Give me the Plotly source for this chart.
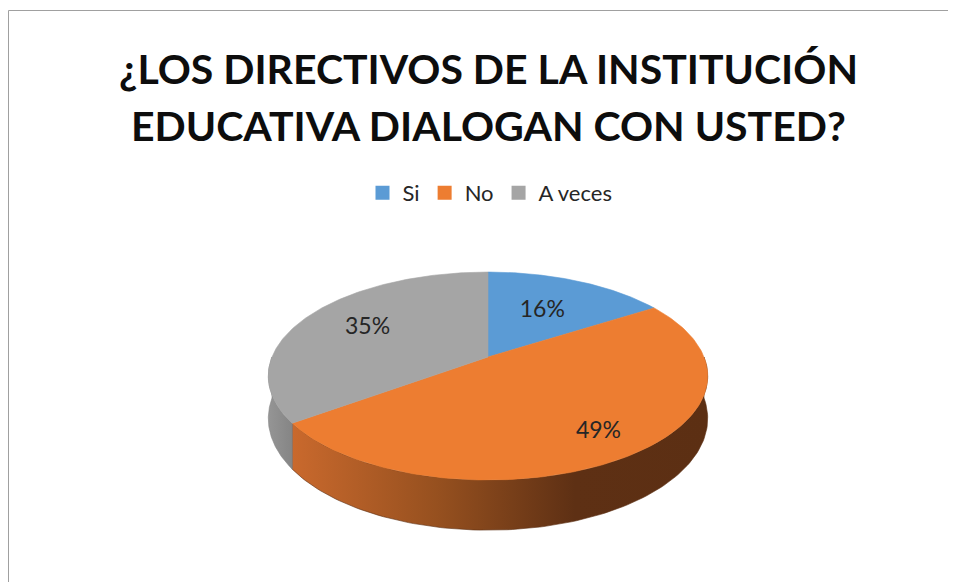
import numpy as np
import plotly.graph_objects as go

categories = ["Si", "No", "A veces"]
percentages = [16, 49, 35]
top_colors = ["#5B9BD5", "#ED7D31", "#A5A5A5"]
side_scales = [
    [[0, "#3F6E99"], [1, "#2E5375"]],
    [[0, "#C9692D"], [0.35, "#96501F"], [0.68, "#5E3014"], [1, "#5C2F13"]],
    [[0, "#959595"], [1, "#858585"]],
]
label_radius = [0.57, 0.8, 0.66]
title_lines = ["¿LOS DIRECTIVOS DE LA INSTITUCIÓN", "EDUCATIVA DIALOGAN CON USTED?"]

# pie geometry, in screen pixels
CX, CY = 488, 357
RX, RY = 216, 100.5
PERSP = 0.183
DEPTH = 41
FONT = "Lato"
OFF = 8  # the page body margin pushes the figure 8px right and down


def project(theta, r=1.0, h=0.0):
    s = np.sin(theta) * r
    c = np.cos(theta) * r
    d = 1 + PERSP * c
    return CX + RX * s / d, CY - RY * c / d + h / d


total = sum(percentages)
edges = np.concatenate([[0], np.cumsum(percentages)]) / total * 2 * np.pi

fig = go.Figure()

# side walls (front half only)
for i, cat in enumerate(categories):
    a0 = max(edges[i], np.pi / 2)
    a1 = min(edges[i + 1], 3 * np.pi / 2)
    if a1 <= a0:
        continue
    t = np.linspace(a0, a1, 120)
    xt, yt = project(t)
    xb, yb = project(t[::-1], h=DEPTH)
    xs = np.concatenate([xt, xb, xt[:1]])
    ys = np.concatenate([yt, yb, yt[:1]])
    fig.add_trace(go.Scatter(
        x=xs, y=ys, mode="lines", fill="toself",
        line=dict(width=0.6, color=side_scales[i][-1][1]),
        fillgradient=dict(type="horizontal", colorscale=side_scales[i],
                          start=float(xs.min()), stop=float(xs.max())),
        showlegend=False, hoverinfo="skip",
    ))

# top faces
for i, cat in enumerate(categories):
    t = np.linspace(edges[i], edges[i + 1], 150)
    xa, ya = project(t)
    xs = np.concatenate([[CX], xa, [CX]])
    ys = np.concatenate([[CY], ya, [CY]])
    fig.add_trace(go.Scatter(
        x=xs, y=ys, mode="lines", fill="toself",
        fillcolor=top_colors[i], line=dict(width=0.6, color=top_colors[i]),
        showlegend=False, name=cat,
        hovertemplate=f"{cat}: {percentages[i]}%<extra></extra>",
    ))

# data labels
mids = (edges[:-1] + edges[1:]) / 2
lx, ly = project(mids, r=np.array(label_radius))
fig.add_trace(go.Scatter(
    x=lx, y=ly, mode="text",
    text=[f"{p}%" for p in percentages],
    textfont=dict(family=FONT, size=23, color="#262626"),
    showlegend=False, hoverinfo="skip",
))

# legend entries
for i, cat in enumerate(categories):
    fig.add_trace(go.Scatter(
        x=[None], y=[None], mode="markers", name=cat,
        marker=dict(symbol="square", size=14, color=top_colors[i]),
    ))

# title, one annotation per line
for line, ypix in zip(title_lines, [69, 126]):
    fig.add_annotation(
        text=line,
        xref="paper", yref="paper", x=(488 - OFF) / 956, y=1 - (ypix - OFF) / 582,
        xanchor="center", yanchor="middle", showarrow=False,
        font=dict(family=FONT, size=41, color="#0D0D0D", weight="bold"),
    )

# chart area border (cropped on right and bottom)
fig.add_shape(type="rect", xref="paper", yref="paper",
              x0=0.5 / 956, x1=1.02, y0=-0.02, y1=1 - 2.5 / 582,
              line=dict(color="#A0A0A0", width=1))

fig.update_layout(
    width=956, height=582,
    margin=dict(l=0, r=0, t=0, b=0),
    paper_bgcolor="white", plot_bgcolor="white",
    xaxis=dict(range=[OFF, 956 + OFF], visible=False, fixedrange=True),
    yaxis=dict(range=[582 + OFF, OFF], visible=False, fixedrange=True),
    legend=dict(
        orientation="h", x=(490 - OFF) / 956, xanchor="center",
        y=1 - (193 - OFF) / 582, yanchor="middle",
        font=dict(family=FONT, size=22, color="#262626"),
        itemwidth=30,
    ),
)

fig.write_html("out.html")
